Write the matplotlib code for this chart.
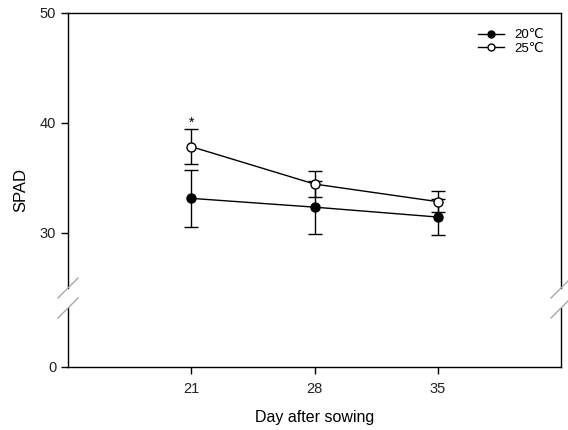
import matplotlib
matplotlib.use("Agg")
import matplotlib.pyplot as plt
from matplotlib.lines import Line2D

plt.rcParams['font.family'] = ['Liberation Sans', 'DejaVu Sans']

days = [21, 28, 35]
spad_20 = [33.15, 32.35, 31.45]
err_20 = [2.6, 2.4, 1.6]
spad_25 = [37.85, 34.45, 32.85]
err_25 = [1.6, 1.15, 0.95]
labels = ["20℃", "25℃"]
star_x = 21
star_y = 40.0

fig = plt.figure(figsize=(5.68, 4.30), dpi=100)
W, H = 568, 430
left, right = 68 / W, 561 / W
ax_up = fig.add_axes([left, 1 - 288 / H, right - left, (288 - 13) / H])
ax_lo = fig.add_axes([left, 1 - 367 / H, right - left, (367 - 308) / H])

for ax in (ax_up, ax_lo):
    ax.set_xlim(14, 42)
    for s in ax.spines.values():
        s.set_linewidth(1.0)
    ax.tick_params(direction='out', length=5, width=1, labelsize=10.5, labelcolor='#222222')

ax_up.set_ylim(25, 50)
ax_up.set_yticks([30, 40, 50])
ax_up.spines['bottom'].set_visible(False)
ax_up.tick_params(axis='x', bottom=False, labelbottom=False)

ax_lo.set_ylim(0, 5.4)
ax_lo.set_yticks([0])
ax_lo.spines['top'].set_visible(False)
ax_lo.set_xticks(days)
ax_lo.tick_params(axis='x', pad=6)

ax_up.errorbar(days, spad_20, yerr=err_20, color='black', marker='o', markersize=6.5,
               markerfacecolor='black', markeredgecolor='black', linewidth=1.0,
               capsize=5, capthick=1.0, elinewidth=1.0, zorder=3)
ax_up.errorbar(days, spad_25, yerr=err_25, color='black', marker='o', markersize=6.5,
               markerfacecolor='white', markeredgecolor='black', linewidth=1.0,
               capsize=5, capthick=1.0, elinewidth=1.0, zorder=4)
ax_up.text(star_x, star_y, '*', ha='center', va='center', fontsize=10)

handles = [
    Line2D([], [], color='black', linewidth=1.0, marker='o', markersize=5,
           markerfacecolor='black', markeredgecolor='black'),
    Line2D([], [], color='black', linewidth=1.0, marker='o', markersize=5,
           markerfacecolor='white', markeredgecolor='black'),
]
leg = ax_up.legend(handles, labels, loc='upper right', frameon=False, fontsize=9.5,
                   handlelength=2.0, bbox_to_anchor=(0.99, 0.985), labelspacing=0.1,
                   handletextpad=0.8)

ax_lo.set_xlabel('Day after sowing', fontsize=11.5, labelpad=10)
fig.text(21 / W, 1 - 190 / H, 'SPAD', rotation=90, ha='center', va='center', fontsize=12)

# axis break marks
for xp in (68, 561):
    for y0 in (298, 318):
        fig.add_artist(Line2D([(xp - 10) / W, (xp + 10) / W], [1 - y0 / H, 1 - (y0 - 20) / H],
                              transform=fig.transFigure, color='#a8a8a8', linewidth=1.0))

fig.savefig('out.png', dpi=100)
